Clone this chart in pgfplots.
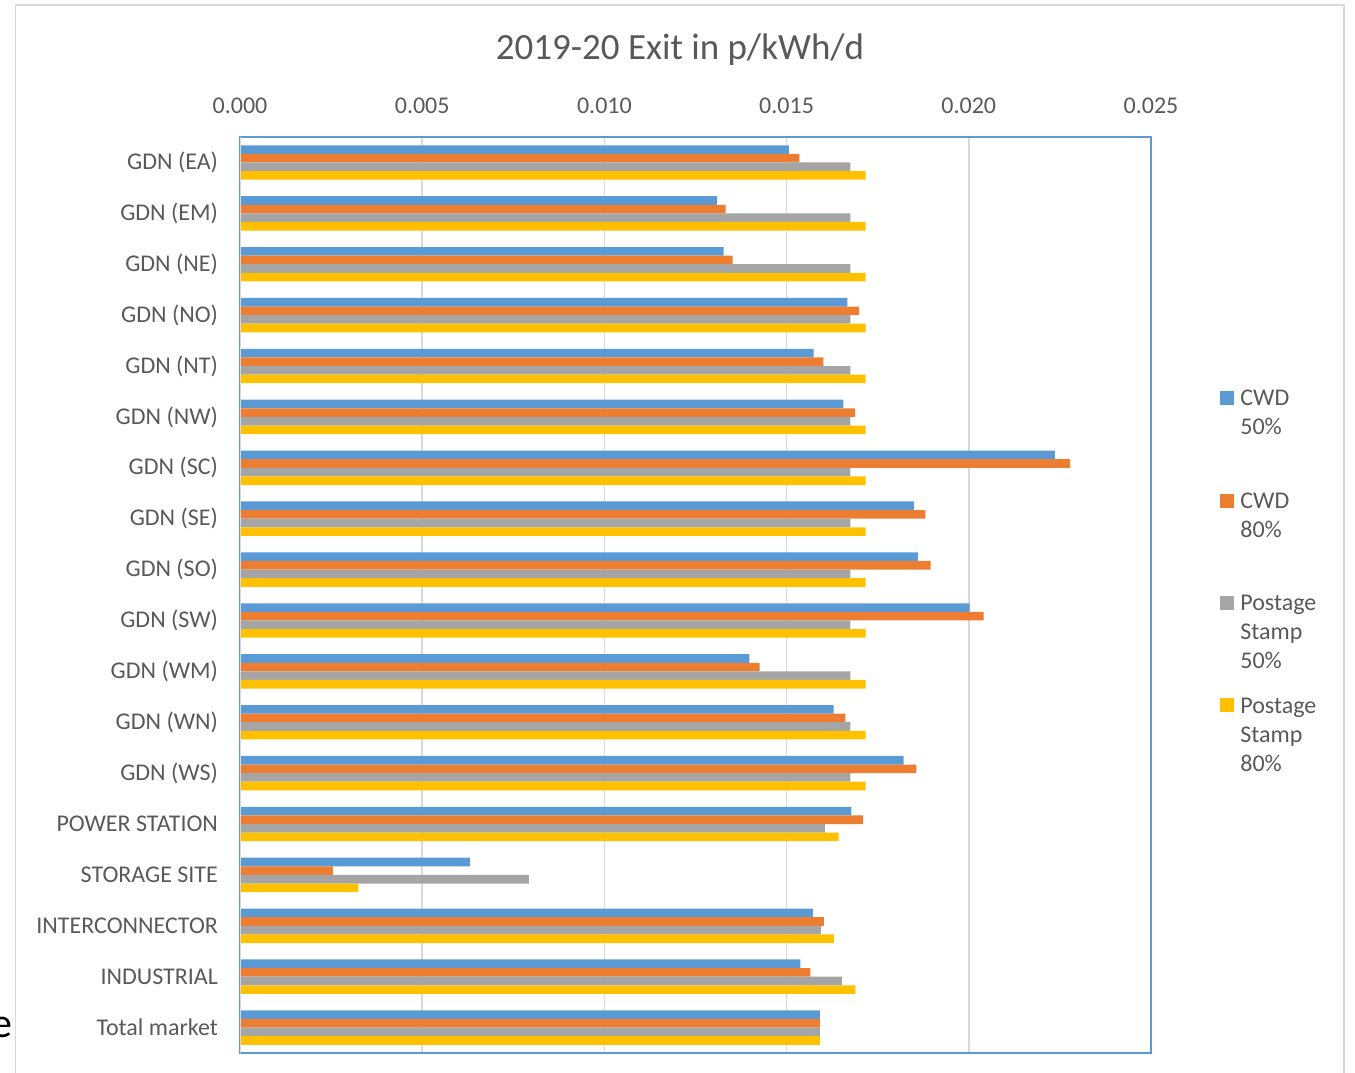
\documentclass[border=0pt]{standalone}
\usepackage{fontspec}
\setmainfont{Carlito}
\usepackage{pgfplots}
\usepackage{pgfplotstable}
\pgfplotsset{compat=1.18}

\definecolor{cblue}{HTML}{5B9BD5}
\definecolor{corange}{HTML}{ED7D31}
\definecolor{cgray}{HTML}{A5A5A5}
\definecolor{cyellow}{HTML}{FFC000}
\definecolor{ctext}{HTML}{595959}
\definecolor{cgrid}{HTML}{D9D9D9}

% 0 = GDN (EA) at the top ... 17 = Total market at the bottom
\pgfplotstableread{
idx cwdA     cwdB     psA      psB
0   0.01506  0.01535  0.01675  0.01717
1   0.01309  0.01333  0.01675  0.01717
2   0.01327  0.01352  0.01675  0.01717
3   0.01667  0.01699  0.01675  0.01717
4   0.01574  0.01601  0.01675  0.01717
5   0.01656  0.01688  0.01675  0.01717
6   0.02236  0.02278  0.01675  0.01717
7   0.01849  0.01881  0.01675  0.01717
8   0.01860  0.01895  0.01675  0.01717
9   0.02002  0.02041  0.01675  0.01717
10  0.01398  0.01426  0.01675  0.01717
11  0.01629  0.01661  0.01675  0.01717
12  0.01821  0.01856  0.01675  0.01717
13  0.01678  0.01710  0.01605  0.01643
14  0.00631  0.00255  0.00793  0.00325
15  0.01572  0.01602  0.01594  0.01630
16  0.01538  0.01565  0.01652  0.01689
17  0.01591  0.01591  0.01591  0.01591
}\exitdata

\begin{document}
\begin{tikzpicture}
\useasboundingbox (0pt,0pt) rectangle (677.5pt,-536pt);
\draw[cgrid, line width=0.8pt] (7.75pt,-2.5pt) rectangle (672pt,-560pt);
\node[anchor=base east, inner sep=0pt, font=\fontsize{21}{25}\selectfont] at (6.5pt,-518.5pt) {e};
\node[font=\fontsize{18.5}{22}\selectfont, text=ctext] at (340pt,-25pt) {2019-20 Exit in p/kWh/d};

\begin{axis}[
  at={(120pt,-526.5pt)}, anchor=south west,
  scale only axis, width=455.5pt, height=458pt,
  xbar, bar width=4.3pt,
  xmin=0, xmax=0.025, ymin=-0.5, ymax=17.5, y dir=reverse,
  xtick={0,0.005,0.01,0.015,0.02,0.025},
  xticklabel pos=top,
  scaled x ticks=false,
  /pgf/number format/fixed,
  /pgf/number format/fixed zerofill,
  /pgf/number format/precision=3,
  /pgf/number format/assume math mode=true,
  ytick={0,...,17},
  yticklabels={GDN (EA),GDN (EM),GDN (NE),GDN (NO),GDN (NT),GDN (NW),GDN (SC),GDN (SE),GDN (SO),GDN (SW),GDN (WM),GDN (WN),GDN (WS),POWER STATION,STORAGE SITE,INTERCONNECTOR,INDUSTRIAL,Total market},
  major tick length=0pt,
  xmajorgrids, grid style={cgrid, line width=0.8pt},
  axis line style={cblue, line width=1pt},
  tick label style={font=\fontsize{12}{14}\selectfont, text=ctext},
  xticklabel shift=8pt,
  yticklabel shift=7.5pt,
  legend style={draw=none, fill=none, inner sep=0pt,
    at={(1.0757,0.7282)}, anchor=north west,
    font=\fontsize{12}{14.5}\selectfont, text=ctext,
    row sep=9pt, column sep=1pt,
    cells={anchor=base west, align=left, inner sep=0pt}},
  legend image code/.code={\fill[#1] (0pt,29.5pt) rectangle (7pt,36.5pt);},
]
\addplot[fill=cblue, draw=none, bar shift=6.45pt] table[x=cwdA, y=idx] {\exitdata};
\addplot[fill=corange, draw=none, bar shift=2.15pt] table[x=cwdB, y=idx] {\exitdata};
\addplot[fill=cgray, draw=none, bar shift=-2.15pt] table[x=psA, y=idx] {\exitdata};
\addplot[fill=cyellow, draw=none, bar shift=-6.45pt] table[x=psB, y=idx] {\exitdata};
\legend{{CWD\\50\%\\\strut},{CWD\\80\%\\\strut},{Postage\\Stamp\\50\%},{Postage\\Stamp\\80\%}}
\draw[cgrid, line width=1pt] (rel axis cs:0,0) -- (rel axis cs:0,1);
\end{axis}
\end{tikzpicture}
\end{document}
